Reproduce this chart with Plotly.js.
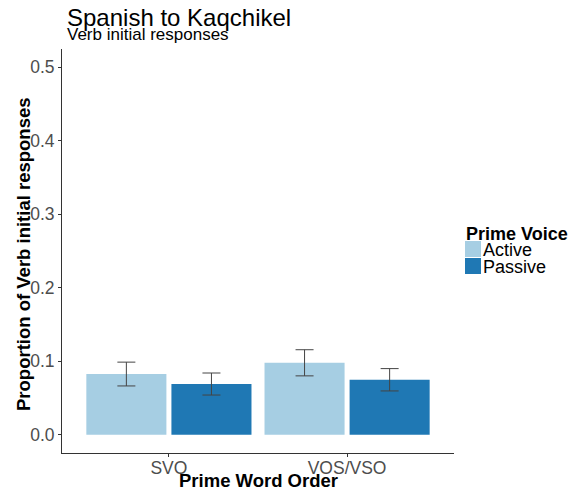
<!DOCTYPE html>
<html><head><meta charset="utf-8">
<script src="https://cdn.plot.ly/plotly-3.0.1.min.js"></script>
<style>html,body{margin:0;padding:0;background:#fff}</style>
</head><body>
<div id="chart" style="width:577px;height:491px"></div>
<script>
const categories = ["SVO", "VOS/VSO"];
const activeValues = [0.0825, 0.0978];
const activeErr = [0.0162, 0.0178];
const passiveValues = [0.0689, 0.0747];
const passiveErr = [0.0150, 0.0152];
const seriesNames = ["Active", "Passive"];
const seriesColors = ["#a6cee3", "#1f78b4"];
const yTicks = [0, 0.1, 0.2, 0.3, 0.4, 0.5];
const yTickLabels = ["0.0", "0.1", "0.2", "0.3", "0.4", "0.5"];

const font = "Liberation Sans, Arial, sans-serif";
const errStyle = (arr) => ({type: "data", array: arr, visible: true, color: "#444444", thickness: 1, width: 9});

const traces = [
  {type: "bar", name: seriesNames[0], x: categories, y: activeValues, marker: {color: seriesColors[0]}, error_y: errStyle(activeErr)},
  {type: "bar", name: seriesNames[1], x: categories, y: passiveValues, marker: {color: seriesColors[1]}, error_y: errStyle(passiveErr)}
];

// plot area: x 62..454, y 49..453
const PX0 = 62, PW = 392, PY1 = 453, PH = 404;
const px = (p) => (p - PX0) / PW;
const py = (p) => (PY1 - p) / PH;

const shapes = [];
const annotations = [
  {text: "Spanish to Kaqchikel", xref: "paper", yref: "paper", x: px(65), y: py(18), xanchor: "left", yanchor: "middle",
   showarrow: false, font: {size: 24, color: "#000"}},
  {text: "Verb initial responses", xref: "paper", yref: "paper", x: px(65), y: py(35), xanchor: "left", yanchor: "middle",
   showarrow: false, font: {size: 17, color: "#000"}},
  {text: "<b>Prime Word Order</b>", xref: "paper", yref: "paper", x: px(258), y: py(480), xanchor: "center", yanchor: "middle",
   showarrow: false, font: {size: 18.5, color: "#000"}},
  {text: "<b>Proportion of Verb initial responses</b>", xref: "paper", yref: "paper", x: px(23), y: py(254), xanchor: "center", yanchor: "middle",
   textangle: -90, showarrow: false, font: {size: 18.5, color: "#000"}},
  {text: "<b>Prime Voice</b>", xref: "paper", yref: "paper", x: px(464), y: py(234), xanchor: "left", yanchor: "middle",
   showarrow: false, font: {size: 18, color: "#000"}}
];
seriesNames.forEach((name, i) => {
  const top = 241 + i * 17;
  shapes.push({type: "rect", xref: "paper", yref: "paper", x0: px(465), x1: px(481), y0: py(top), y1: py(top + 16),
    fillcolor: seriesColors[i], line: {width: 0}});
  annotations.push({text: name, xref: "paper", yref: "paper", x: px(481), y: py(top + 8.5), xanchor: "left", yanchor: "middle",
    showarrow: false, font: {size: 18, color: "#000"}});
});

const layout = {
  width: 577, height: 491,
  margin: {l: 62, r: 123, t: 49, b: 38},
  paper_bgcolor: "#fff", plot_bgcolor: "#fff",
  font: {family: font, color: "#000"},
  barmode: "group", bargap: 0.045, bargroupgap: 0.059,
  showlegend: false,
  xaxis: {type: "category", range: [-0.6, 1.6], showline: true, linecolor: "#333", linewidth: 1,
    ticks: "outside", ticklen: 3, tickcolor: "#333", showgrid: false, zeroline: false,
    ticklabelstandoff: -4, automargin: false,
    tickfont: {size: 17.5, color: "#4d4d4d"}},
  yaxis: {range: [-0.025, 0.525], tickvals: yTicks, ticktext: yTickLabels, automargin: false,
    showline: true, linecolor: "#333", linewidth: 1, ticks: "outside", ticklen: 3, tickcolor: "#333",
    showgrid: false, zeroline: false, tickfont: {size: 17.5, color: "#4d4d4d"}},
  shapes: shapes,
  annotations: annotations
};
Plotly.newPlot("chart", traces, layout, {displayModeBar: false, staticPlot: true});
</script>
</body></html>
